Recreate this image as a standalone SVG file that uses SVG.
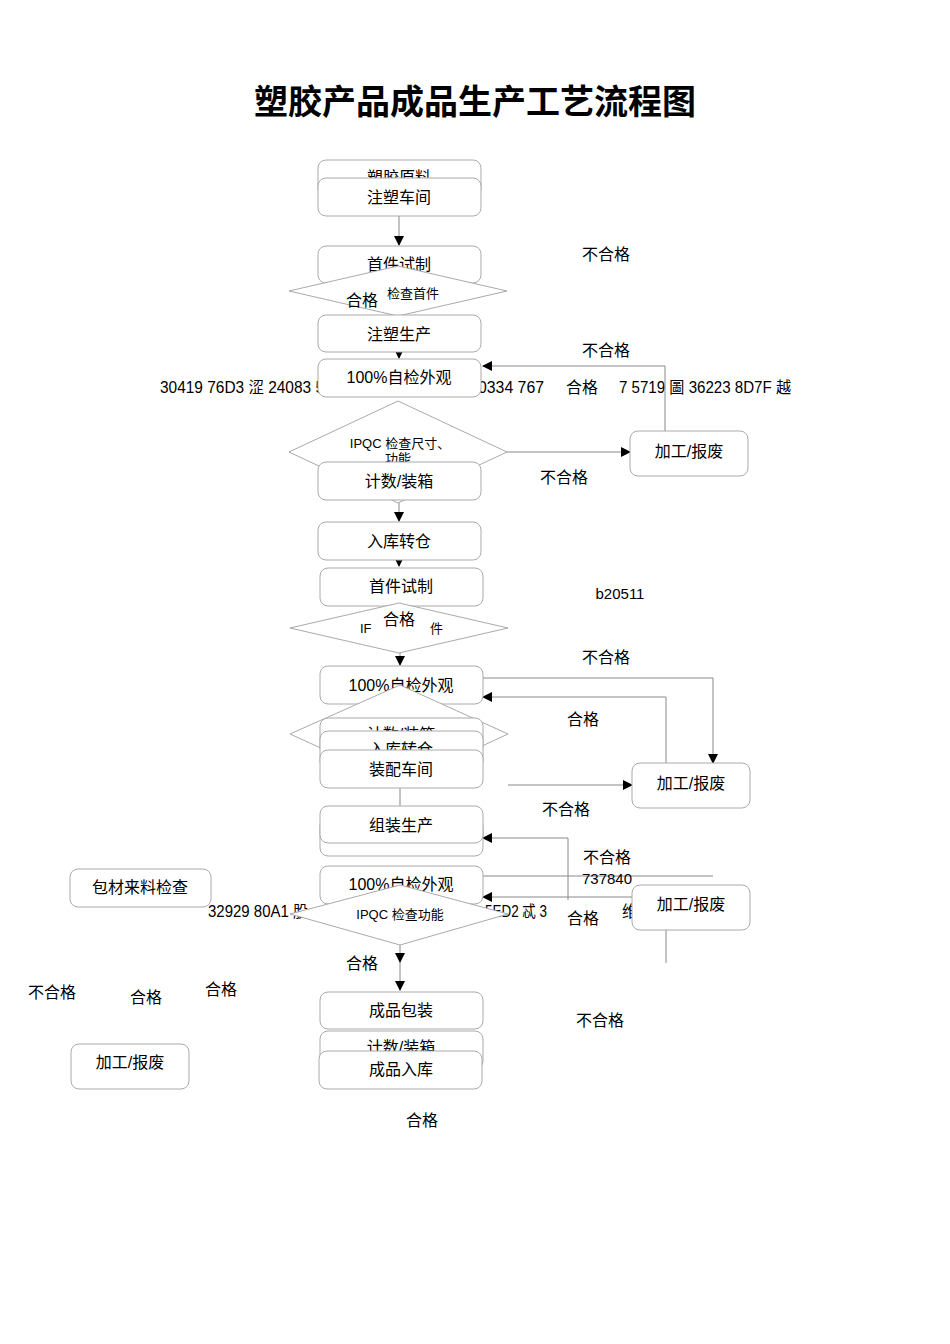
<svg xmlns="http://www.w3.org/2000/svg" width="950" height="1344" viewBox="0 0 950 1344">
<style>
text{font-family:"Liberation Sans","Noto Sans CJK SC",sans-serif;font-size:16px;fill:#000}
.t{text-anchor:middle}
.n rect{fill:#fff;stroke:#aaa;stroke-width:1}
.n polygon{fill:#fff;stroke:#aaa;stroke-width:1}
.s{font-size:13px}
.c line,.c polyline{stroke:#888;stroke-width:1;fill:none}
</style>
<defs><marker id="a" markerWidth="10" markerHeight="10" refX="9" refY="5" orient="auto" markerUnits="userSpaceOnUse"><path d="M0,0L10,5L0,10z" fill="#000"/></marker></defs>
<rect width="950" height="1344" fill="#fff"/>
<text x="475" y="114" class="t" style="font-size:34px;font-weight:bold;font-family:'Noto Sans CJK SC',sans-serif">塑胶产品成品生产工艺流程图</text>
<g id="labels-back">
<text x="160" y="393" textLength="164" lengthAdjust="spacingAndGlyphs">30419 76D3 涩 24083 5</text>
<text x="478" y="393" textLength="66" lengthAdjust="spacingAndGlyphs">0334 767</text>
<text x="619" y="393" textLength="172" lengthAdjust="spacingAndGlyphs">7 5719 圖 36223 8D7F 越</text>
<text x="208" y="917" textLength="100" lengthAdjust="spacingAndGlyphs">32929 80A1 股</text>
<text x="485" y="917" textLength="62" lengthAdjust="spacingAndGlyphs">5ED2 忒 3</text>
<text x="622" y="917">维</text>
</g>
<g class="c" id="connectors">
<line x1="399" y1="216" x2="399" y2="245" marker-end="url(#a)"/>
<line x1="399" y1="315" x2="399" y2="358" marker-end="url(#a)"/>
<line x1="507" y1="452" x2="630" y2="452" marker-end="url(#a)"/>
<polyline points="665,431 665,366 483,366" marker-end="url(#a)"/>
<line x1="399" y1="495" x2="399" y2="521" marker-end="url(#a)"/>
<line x1="399" y1="540" x2="399" y2="566" marker-end="url(#a)"/>
<line x1="400" y1="606" x2="400" y2="665" marker-end="url(#a)"/>
<polyline points="483,678 713,678 713,763" marker-end="url(#a)"/>
<polyline points="666,765 666,697 483,697" marker-end="url(#a)"/>
<line x1="508" y1="785" x2="632" y2="785" marker-end="url(#a)"/>
<line x1="400" y1="788" x2="400" y2="806"/>
<polyline points="568,900 568,838 483,838" marker-end="url(#a)"/>
<line x1="483" y1="876" x2="713" y2="876"/>
<line x1="632" y1="897" x2="483" y2="897" marker-end="url(#a)"/>
<line x1="666" y1="930" x2="666" y2="963"/>
<line x1="400" y1="945" x2="400" y2="962" marker-end="url(#a)"/>
<line x1="400" y1="962" x2="400" y2="990" marker-end="url(#a)"/>
</g>
<g class="n">
<g id="n1"><rect x="318" y="160" width="163" height="37" rx="8"/><text x="399" y="183" class="t">塑胶原料</text></g>
<g id="n2"><rect x="318" y="178" width="163" height="38" rx="8"/><text x="399" y="203" class="t">注塑车间</text></g>
<g id="n3"><rect x="318" y="246" width="163" height="37" rx="8"/><text x="399" y="270" class="t">首件试制</text></g>
<g id="d1"><polygon points="289,291 398,266 507,291 398,316"/><text x="413" y="298" class="t s">检查首件</text><text x="362" y="306" class="t">合格</text></g>
<g id="n4"><rect x="318" y="315" width="163" height="37" rx="8"/><text x="399" y="340" class="t">注塑生产</text></g>
<g id="n5"><rect x="318" y="359" width="163" height="38" rx="8"/><text x="399" y="383" class="t">100%自检外观</text></g>
<g id="d2"><polygon points="289,452 398,401 507,452 398,503"/><text x="400" y="448" class="t s">IPQC 检查尺寸、</text><text x="398" y="463" class="t s">功能</text></g>
<g id="n6"><rect x="318" y="462" width="163" height="38" rx="8"/><text x="399" y="487" class="t">计数/装箱</text></g>
<g id="r1"><rect x="630" y="431" width="118" height="45" rx="8"/><text x="689" y="457" class="t">加工/报废</text></g>
<g id="n7"><rect x="318" y="522" width="163" height="38" rx="8"/><text x="399" y="547" class="t">入库转仓</text></g>
<g id="n8"><rect x="320" y="568" width="163" height="38" rx="8"/><text x="401" y="592" class="t">首件试制</text></g>
<g id="d3"><polygon points="290,628 399,603 508,628 399,653"/><text x="360" y="633" class="s">IF</text><text x="430" y="633" class="s">件</text><text x="399" y="625" class="t">合格</text></g>
<g id="n9"><rect x="320" y="666" width="163" height="38" rx="8"/><text x="401" y="691" class="t">100%自检外观</text></g>
<g id="d4"><polygon points="290,734 400,685 508,734 400,784"/></g>
<g id="n10"><rect x="320" y="718" width="163" height="38" rx="8"/><text x="401" y="740" class="t">计数/装箱</text></g>
<g id="n11"><rect x="320" y="731" width="163" height="38" rx="8"/><text x="401" y="755" class="t">入库转仓</text></g>
<g id="n12"><rect x="320" y="750" width="163" height="38" rx="8"/><text x="401" y="775" class="t">装配车间</text></g>
<g id="r2"><rect x="632" y="763" width="118" height="45" rx="8"/><text x="691" y="789" class="t">加工/报废</text></g>
<g id="n13b"><rect x="320" y="818" width="163" height="38" rx="8"/></g>
<g id="n13"><rect x="320" y="806" width="163" height="37" rx="8"/><text x="401" y="831" class="t">组装生产</text></g>
<g id="n14"><rect x="320" y="866" width="163" height="38" rx="8"/><text x="401" y="890" class="t">100%自检外观</text></g>
<g id="d5"><polygon points="290,914 400,885 508,914 400,945"/><text x="400" y="919" class="t s">IPQC 检查功能</text></g>
<g id="n15"><rect x="70" y="869" width="141" height="38" rx="8"/><text x="140" y="893" class="t">包材来料检查</text></g>
<g id="r3"><rect x="632" y="885" width="118" height="45" rx="8"/><text x="691" y="910" class="t">加工/报废</text></g>
<g id="n16"><rect x="320" y="992" width="163" height="37" rx="8"/><text x="401" y="1016" class="t">成品包装</text></g>
<g id="n17"><rect x="320" y="1031" width="163" height="38" rx="8"/><text x="401" y="1053" class="t">计数/装箱</text></g>
<g id="n18"><rect x="319" y="1051" width="163" height="38" rx="8"/><text x="401" y="1075" class="t">成品入库</text></g>
<g id="r4"><rect x="71" y="1044" width="118" height="45" rx="8"/><text x="130" y="1068" class="t">加工/报废</text></g>
</g>
<g id="labels">
<text x="606" y="260" class="t">不合格</text>
<text x="606" y="356" class="t">不合格</text>
<text x="582" y="393" class="t">合格</text>
<text x="564" y="483" class="t">不合格</text>
<text x="620" y="599" class="t" style="font-size:15px">b20511</text>
<text x="606" y="663" class="t">不合格</text>
<text x="583" y="725" class="t">合格</text>
<text x="566" y="815" class="t">不合格</text>
<text x="607" y="863" class="t">不合格</text>
<text x="607" y="884" class="t" style="font-size:15px">737840</text>
<text x="583" y="924" class="t">合格</text>
<text x="362" y="969" class="t">合格</text>
<text x="52" y="998" class="t">不合格</text>
<text x="146" y="1003" class="t">合格</text>
<text x="221" y="995" class="t">合格</text>
<text x="600" y="1026" class="t">不合格</text>
<text x="422" y="1126" class="t">合格</text>
</g>
</svg>
